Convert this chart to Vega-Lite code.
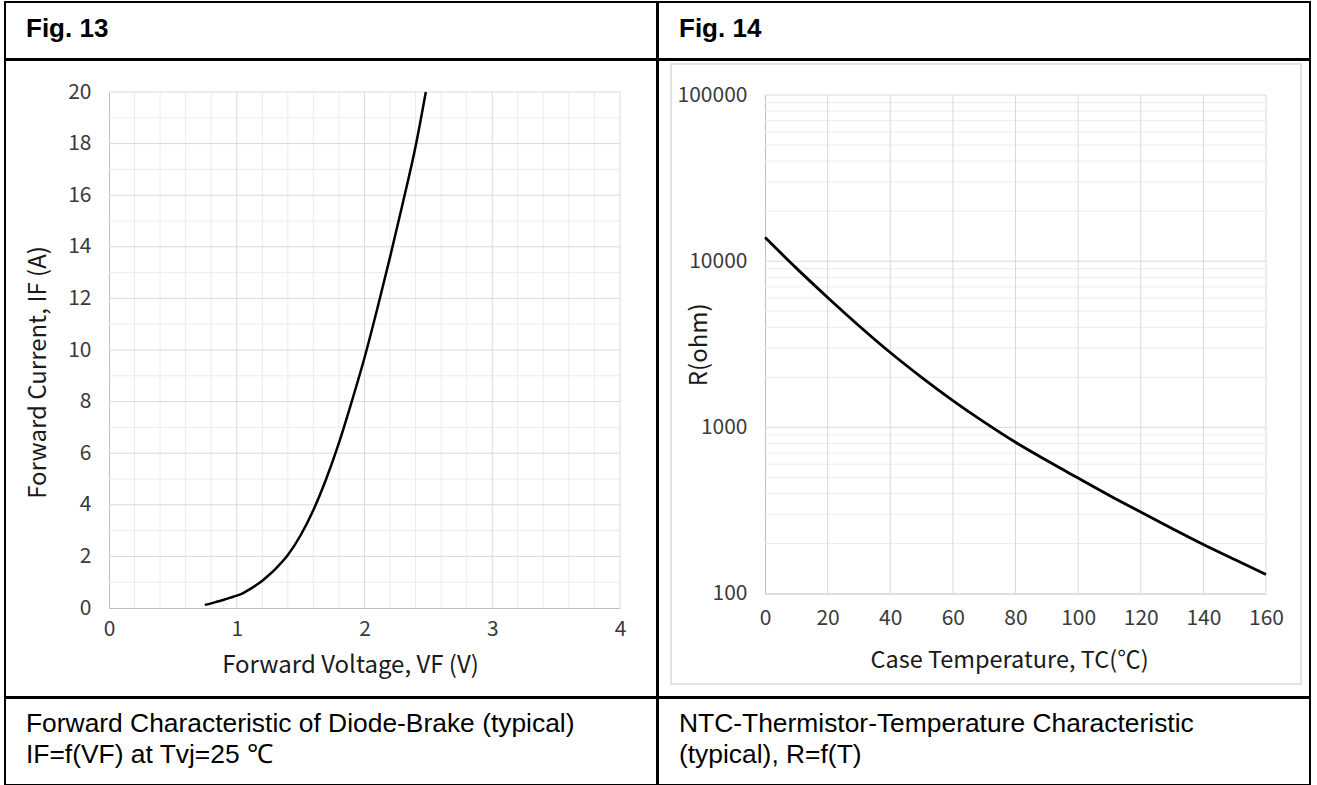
{
  "$schema": "https://vega.github.io/schema/vega-lite/v6.json",
  "padding": {"left": 4, "top": 1, "right": 7, "bottom": 1},
  "background": "white",
  "config": {
    "view": {"stroke": "#000000", "strokeWidth": 2},
    "axis": {"grid": false, "ticks": false}
  },
  "datasets": {
    "empty": [],
    "f13_curve": [
      {"V": 0.75, "I": 0.12}, {"V": 0.8, "I": 0.18}, {"V": 0.85, "I": 0.25}, {"V": 0.9, "I": 0.32},
      {"V": 0.95, "I": 0.4}, {"V": 1.0, "I": 0.48}, {"V": 1.05, "I": 0.58}, {"V": 1.1, "I": 0.72},
      {"V": 1.15, "I": 0.88}, {"V": 1.2, "I": 1.06}, {"V": 1.25, "I": 1.27}, {"V": 1.3, "I": 1.5},
      {"V": 1.4, "I": 2.05}, {"V": 1.5, "I": 2.82}, {"V": 1.6, "I": 3.8}, {"V": 1.7, "I": 5.0},
      {"V": 1.8, "I": 6.4}, {"V": 1.9, "I": 8.0}, {"V": 2.0, "I": 9.7}, {"V": 2.1, "I": 11.6},
      {"V": 2.2, "I": 13.6}, {"V": 2.3, "I": 15.7}, {"V": 2.4, "I": 17.9}, {"V": 2.48, "I": 20}
    ],
    "f13_vmin": [
      {"V": 0.2}, {"V": 0.4}, {"V": 0.6}, {"V": 0.8}, {"V": 1.2}, {"V": 1.4}, {"V": 1.6}, {"V": 1.8},
      {"V": 2.2}, {"V": 2.4}, {"V": 2.6}, {"V": 2.8}, {"V": 3.2}, {"V": 3.4}, {"V": 3.6}, {"V": 3.8}
    ],
    "f13_vmaj": [{"V": 1}, {"V": 2}, {"V": 3}, {"V": 4}],
    "f13_hmin": [
      {"I": 1}, {"I": 3}, {"I": 5}, {"I": 7}, {"I": 9}, {"I": 11}, {"I": 13}, {"I": 15}, {"I": 17}, {"I": 19}
    ],
    "f13_hmaj": [
      {"I": 2}, {"I": 4}, {"I": 6}, {"I": 8}, {"I": 10}, {"I": 12}, {"I": 14}, {"I": 16}, {"I": 18}, {"I": 20}
    ],
    "f14_curve": [
      {"T": 0, "R": 13900}, {"T": 10, "R": 9080}, {"T": 20, "R": 6050}, {"T": 30, "R": 4090},
      {"T": 40, "R": 2820}, {"T": 50, "R": 2000}, {"T": 60, "R": 1450}, {"T": 70, "R": 1075},
      {"T": 80, "R": 813}, {"T": 90, "R": 631}, {"T": 100, "R": 495}, {"T": 110, "R": 389},
      {"T": 120, "R": 309}, {"T": 130, "R": 246}, {"T": 140, "R": 197}, {"T": 150, "R": 160},
      {"T": 160, "R": 130}
    ],
    "f14_vmaj": [{"T": 20}, {"T": 40}, {"T": 60}, {"T": 80}, {"T": 100}, {"T": 120}, {"T": 140}, {"T": 160}],
    "f14_hmaj": [{"R": 1000}, {"R": 10000}, {"R": 100000}],
    "f14_hmin": [
      {"R": 200}, {"R": 300}, {"R": 400}, {"R": 500}, {"R": 600}, {"R": 700}, {"R": 800}, {"R": 900},
      {"R": 2000}, {"R": 3000}, {"R": 4000}, {"R": 5000}, {"R": 6000}, {"R": 7000}, {"R": 8000}, {"R": 9000},
      {"R": 20000}, {"R": 30000}, {"R": 40000}, {"R": 50000}, {"R": 60000}, {"R": 70000}, {"R": 80000}, {"R": 90000}
    ],
    "f14_frame": [{"part": "chart area"}]
  },
  "spacing": -2,
  "hconcat": [
    {
      "spacing": -2,
      "vconcat": [
        {
          "width": 652, "height": 57,
          "view": {"stroke": "#000000", "strokeWidth": 2},
          "data": {"name": "empty"},
          "mark": "point",
          "title": {"text": "Fig. 13", "anchor": "start", "orient": "top", "offset": -40, "dx": 21,
                    "font": "Liberation Sans", "fontSize": 26, "fontWeight": "bold", "color": "#000000"}
        },
        {
          "width": 652, "height": 637,
          "layer": [
            {
              "data": {"name": "f13_vmin"},
              "mark": {"type": "rule", "color": "#ececec", "strokeWidth": 1},
              "encoding": {
                "x": {"field": "V", "type": "quantitative", "scale": {"domain": [0, 4], "range": [104, 615], "nice": false, "zero": false}},
                "y": {"datum": 0, "type": "quantitative", "scale": {"domain": [0, 20], "range": [548, 32], "nice": false, "zero": false}},
                "y2": {"datum": 20}
              }
            },
            {
              "data": {"name": "f13_hmin"},
              "mark": {"type": "rule", "color": "#ececec", "strokeWidth": 1},
              "encoding": {
                "y": {"field": "I", "type": "quantitative", "scale": {"domain": [0, 20], "range": [548, 32], "nice": false, "zero": false}},
                "x": {"datum": 0, "type": "quantitative", "scale": {"domain": [0, 4], "range": [104, 615], "nice": false, "zero": false}},
                "x2": {"datum": 4}
              }
            },
            {
              "data": {"name": "f13_vmaj"},
              "mark": {"type": "rule", "color": "#d9d9d9", "strokeWidth": 1},
              "encoding": {
                "x": {"field": "V", "type": "quantitative", "scale": {"domain": [0, 4], "range": [104, 615], "nice": false, "zero": false}},
                "y": {"datum": 0, "type": "quantitative", "scale": {"domain": [0, 20], "range": [548, 32], "nice": false, "zero": false}},
                "y2": {"datum": 20}
              }
            },
            {
              "data": {"name": "f13_hmaj"},
              "mark": {"type": "rule", "color": "#d9d9d9", "strokeWidth": 1},
              "encoding": {
                "y": {"field": "I", "type": "quantitative", "scale": {"domain": [0, 20], "range": [548, 32], "nice": false, "zero": false}},
                "x": {"datum": 0, "type": "quantitative", "scale": {"domain": [0, 4], "range": [104, 615], "nice": false, "zero": false}},
                "x2": {"datum": 4}
              }
            },
            {
              "data": {"name": "f13_curve"},
              "mark": {"type": "line", "color": "#000000", "strokeWidth": 2.5, "interpolate": "monotone"},
              "encoding": {
                "x": {
                  "field": "V", "type": "quantitative",
                  "scale": {"domain": [0, 4], "range": [104, 615], "nice": false, "zero": false},
                  "axis": {
                    "orient": "bottom", "offset": -89, "values": [0, 1, 2, 3, 4], "format": "d",
                    "title": "Forward Voltage, VF (V)",
                    "grid": false, "ticks": false, "domain": true, "domainColor": "#bfbfbf", "domainWidth": 1,
                    "labelFont": "Noto Sans CJK KR", "labelFontSize": 21, "labelColor": "#3a3a3a",
                    "labelPadding": 10, "labelFlush": false,
                    "titleFont": "Noto Sans CJK KR", "titleFontSize": 24, "titleFontWeight": "normal",
                    "titleColor": "#1a1a1a", "titleX": 345, "titleY": 64, "titleBaseline": "alphabetic"
                  }
                },
                "y": {
                  "field": "I", "type": "quantitative",
                  "scale": {"domain": [0, 20], "range": [548, 32], "nice": false, "zero": false},
                  "axis": {
                    "orient": "left", "offset": -104, "values": [0, 2, 4, 6, 8, 10, 12, 14, 16, 18, 20],
                    "title": "Forward Current, IF (A)",
                    "grid": false, "ticks": false, "domain": true, "domainColor": "#bfbfbf", "domainWidth": 1,
                    "labelFont": "Noto Sans CJK KR", "labelFontSize": 21, "labelColor": "#3a3a3a",
                    "labelPadding": 18,
                    "titleFont": "Noto Sans CJK KR", "titleFontSize": 24, "titleFontWeight": "normal",
                    "titleColor": "#1a1a1a", "titleX": -64, "titleY": 312, "titleBaseline": "alphabetic"
                  }
                }
              }
            }
          ]
        },
        {
          "width": 652, "height": 87,
          "view": {"stroke": "#000000", "strokeWidth": 2},
          "data": {"name": "empty"},
          "mark": "point",
          "title": {"text": ["Forward Characteristic of Diode-Brake (typical)", "IF=f(VF) at Tvj=25 ℃"],
                    "anchor": "start", "orient": "top", "offset": -70.5, "dx": 21, "lineHeight": 31,
                    "font": "Liberation Sans", "fontSize": 26.4, "fontWeight": "normal", "color": "#000000"}
        }
      ]
    },
    {
      "spacing": -2,
      "vconcat": [
        {
          "width": 652, "height": 57,
          "view": {"stroke": "#000000", "strokeWidth": 2},
          "data": {"name": "empty"},
          "mark": "point",
          "title": {"text": "Fig. 14", "anchor": "start", "orient": "top", "offset": -40, "dx": 21,
                    "font": "Liberation Sans", "fontSize": 26, "fontWeight": "bold", "color": "#000000"}
        },
        {
          "width": 652, "height": 637,
          "layer": [
            {
              "data": {"name": "f14_frame"},
              "mark": {"type": "rect", "filled": false, "color": "#d9d9d9", "strokeWidth": 1.5},
              "encoding": {
                "x": {"datum": -30, "type": "quantitative", "scale": {"domain": [0, 160], "range": [107, 608], "nice": false, "zero": false}},
                "x2": {"datum": 171.2},
                "y": {"datum": 153700, "type": "quantitative", "scale": {"type": "log", "domain": [100, 100000], "range": [533.5, 35], "nice": false}},
                "y2": {"datum": 28.5}
              }
            },
            {
              "data": {"name": "f14_hmin"},
              "mark": {"type": "rule", "color": "#ececec", "strokeWidth": 1},
              "encoding": {
                "y": {"field": "R", "type": "quantitative", "scale": {"type": "log", "domain": [100, 100000], "range": [533.5, 35], "nice": false}},
                "x": {"datum": 0, "type": "quantitative", "scale": {"domain": [0, 160], "range": [107, 608], "nice": false, "zero": false}},
                "x2": {"datum": 160}
              }
            },
            {
              "data": {"name": "f14_vmaj"},
              "mark": {"type": "rule", "color": "#d9d9d9", "strokeWidth": 1},
              "encoding": {
                "x": {"field": "T", "type": "quantitative", "scale": {"domain": [0, 160], "range": [107, 608], "nice": false, "zero": false}},
                "y": {"datum": 100, "type": "quantitative", "scale": {"type": "log", "domain": [100, 100000], "range": [533.5, 35], "nice": false}},
                "y2": {"datum": 100000}
              }
            },
            {
              "data": {"name": "f14_hmaj"},
              "mark": {"type": "rule", "color": "#d9d9d9", "strokeWidth": 1},
              "encoding": {
                "y": {"field": "R", "type": "quantitative", "scale": {"type": "log", "domain": [100, 100000], "range": [533.5, 35], "nice": false}},
                "x": {"datum": 0, "type": "quantitative", "scale": {"domain": [0, 160], "range": [107, 608], "nice": false, "zero": false}},
                "x2": {"datum": 160}
              }
            },
            {
              "data": {"name": "f14_curve"},
              "mark": {"type": "line", "color": "#000000", "strokeWidth": 2.8, "interpolate": "monotone"},
              "encoding": {
                "x": {
                  "field": "T", "type": "quantitative",
                  "scale": {"domain": [0, 160], "range": [107, 608], "nice": false, "zero": false},
                  "axis": {
                    "orient": "bottom", "offset": -103.5, "values": [0, 20, 40, 60, 80, 100, 120, 140, 160], "format": "d",
                    "title": "Case Temperature, TC(℃)",
                    "grid": false, "ticks": false, "domain": true, "domainColor": "#bfbfbf", "domainWidth": 1,
                    "labelFont": "Noto Sans CJK KR", "labelFontSize": 21, "labelColor": "#3a3a3a",
                    "labelPadding": 14, "labelFlush": false,
                    "titleFont": "Noto Sans CJK KR", "titleFontSize": 23.5, "titleFontWeight": "normal",
                    "titleColor": "#1a1a1a", "titleX": 351, "titleY": 74, "titleBaseline": "alphabetic"
                  }
                },
                "y": {
                  "field": "R", "type": "quantitative",
                  "scale": {"type": "log", "domain": [100, 100000], "range": [533.5, 35], "nice": false},
                  "axis": {
                    "orient": "left", "offset": -107, "values": [100, 1000, 10000, 100000], "format": "d",
                    "title": "R(ohm)",
                    "grid": false, "ticks": false, "domain": true, "domainColor": "#bfbfbf", "domainWidth": 1,
                    "labelFont": "Noto Sans CJK KR", "labelFontSize": 21, "labelColor": "#3a3a3a",
                    "labelPadding": 18,
                    "titleFont": "Noto Sans CJK KR", "titleFontSize": 24, "titleFontWeight": "normal",
                    "titleColor": "#1a1a1a", "titleX": -59, "titleBaseline": "alphabetic"
                  }
                }
              }
            }
          ]
        },
        {
          "width": 652, "height": 87,
          "view": {"stroke": "#000000", "strokeWidth": 2},
          "data": {"name": "empty"},
          "mark": "point",
          "title": {"text": ["NTC-Thermistor-Temperature Characteristic", "(typical), R=f(T)"],
                    "anchor": "start", "orient": "top", "offset": -70.5, "dx": 21, "lineHeight": 31,
                    "font": "Liberation Sans", "fontSize": 26.4, "fontWeight": "normal", "color": "#000000"}
        }
      ]
    }
  ]
}
